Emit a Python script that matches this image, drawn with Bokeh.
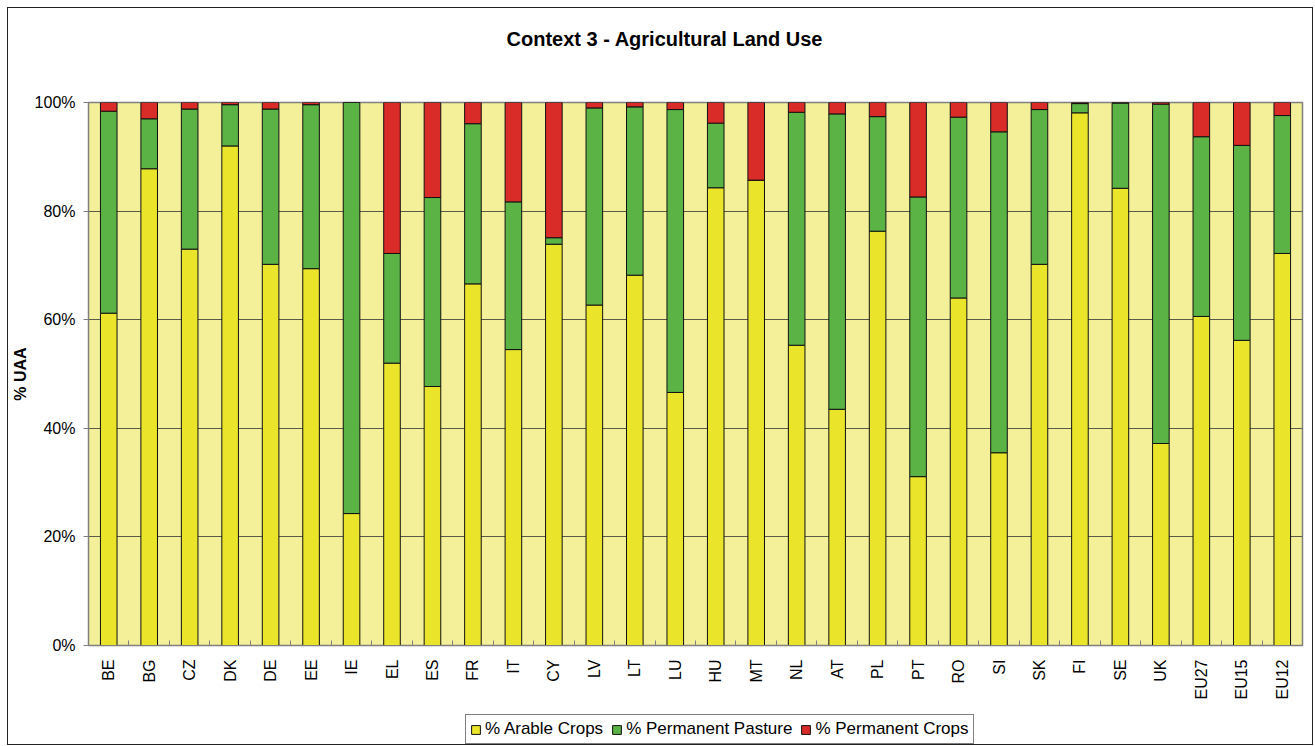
from math import pi
from bokeh.plotting import figure
from bokeh.layouts import column
from bokeh.models import (ColumnDataSource, FixedTicker, Legend, LegendItem, Range1d, Title)
from bokeh.embed import file_html
from bokeh.resources import INLINE

countries = ["BE", "BG", "CZ", "DK", "DE", "EE", "IE", "EL", "ES", "FR", "IT", "CY",
             "LV", "LT", "LU", "HU", "MT", "NL", "AT", "PL", "PT", "RO", "SI", "SK",
             "FI", "SE", "UK", "EU27", "EU15", "EU12"]
arable = [61.2, 87.8, 73.0, 92.0, 70.2, 69.4, 24.3, 52.0, 47.7, 66.6, 54.5, 73.9,
          62.7, 68.2, 46.6, 84.3, 85.7, 55.3, 43.5, 76.3, 31.1, 64.0, 35.5, 70.2,
          98.1, 84.2, 37.2, 60.6, 56.2, 72.2]
pasture = [37.2, 9.2, 25.8, 7.6, 28.6, 30.2, 75.7, 20.2, 34.8, 29.5, 27.2, 1.2,
           36.3, 31.0, 52.1, 11.9, 0.0, 42.9, 54.4, 21.1, 51.5, 33.3, 59.1, 28.5,
           1.7, 15.7, 62.5, 33.1, 35.9, 25.4]
perm_crops = [1.6, 3.0, 1.2, 0.4, 1.2, 0.4, 0.0, 27.8, 17.5, 3.9, 18.3, 24.9,
              1.0, 0.8, 1.3, 3.8, 14.3, 1.8, 2.1, 2.6, 17.4, 2.7, 5.4, 1.3,
              0.2, 0.1, 0.3, 6.3, 7.9, 2.4]
series_names = ["% Arable Crops", "% Permanent Pasture", "% Permanent Crops"]
y_ticks = [0, 20, 40, 60, 80, 100]
y_tick_labels = ["0%", "20%", "40%", "60%", "80%", "100%"]

FONT = "Liberation Sans"
colors = ["#EAE52A", "#5BB245", "#D92B27"]
stack_cols = ["arable", "pasture", "crops"]

idx = list(range(len(countries)))
source = ColumnDataSource(dict(x=idx, arable=arable, pasture=pasture, crops=perm_crops))

W = 1304
H_MAIN = 699
H_LEG = 37
ML, MR, MT = 80, 10, 94
MB = H_MAIN - MT - 543

p = figure(width=W, height=H_MAIN, output_backend="svg", toolbar_location=None, title=None,
           x_range=Range1d(-0.5, len(countries) - 0.5), y_range=Range1d(0, 100),
           min_border_left=ML, min_border_right=MR, min_border_top=MT, min_border_bottom=MB)

# spacer (nearest the frame) then the real title
p.add_layout(Title(text=" ", text_font_size="32px", text_font=FONT), "above")
p.add_layout(Title(text="Context 3 - Agricultural Land Use", align="left", offset=418,
                   text_font=FONT, text_font_size="20px", text_font_style="bold",
                   text_color="#000000"), "above")

p.background_fill_color = "#F3F099"
p.border_fill_color = "#FFFFFF"
p.outline_line_color = "#7F7F7F"
p.outline_line_width = 1.5

renderers = p.vbar_stack(stack_cols, x="x", width=0.41,
                         source=source, color=colors, line_color="#111111",
                         line_width=1)

# grid
p.xgrid.visible = False
p.ygrid.ticker = FixedTicker(ticks=y_ticks)
p.ygrid.grid_line_color = "#5A5A48"
p.ygrid.grid_line_width = 1

# y axis
p.yaxis.ticker = FixedTicker(ticks=y_ticks)
p.yaxis.major_label_overrides = {t: l for t, l in zip(y_ticks, y_tick_labels)}
p.yaxis.axis_label = "% UAA"
p.yaxis.axis_label_text_font = FONT
p.yaxis.axis_label_text_font_size = "16px"
p.yaxis.axis_label_text_font_style = "bold"
p.yaxis.axis_label_text_color = "#000000"
p.yaxis.axis_label_standoff = 3
p.yaxis.major_label_text_font = FONT
p.yaxis.major_label_text_font_size = "16px"
p.yaxis.major_label_text_color = "#000000"
p.yaxis.major_label_standoff = 8
p.yaxis.major_tick_out = 5
p.yaxis.major_tick_in = 0
p.yaxis.minor_tick_line_color = None
p.yaxis.axis_line_color = "#7F7F7F"
p.yaxis.major_tick_line_color = "#7F7F7F"

# x axis
p.xaxis.ticker = FixedTicker(ticks=idx, minor_ticks=[i - 0.5 for i in range(len(countries) + 1)])
p.xaxis.major_label_overrides = {i: c for i, c in zip(idx, countries)}
p.xaxis.major_label_orientation = pi / 2
p.xaxis.major_label_text_font = FONT
p.xaxis.major_label_text_font_size = "16px"
p.xaxis.major_label_text_color = "#000000"
p.xaxis.major_label_standoff = 14
p.xaxis.major_tick_in = 0
p.xaxis.major_tick_out = 0
p.xaxis.minor_tick_in = 5
p.xaxis.minor_tick_out = 0
p.xaxis.minor_tick_line_color = "#7F7F7F"
p.xaxis.axis_line_color = "#7F7F7F"

# legend strip below the chart (its view range lies away from the data, so only
# the legend swatches of these stacked renderers are visible)
pl = figure(width=W, height=H_LEG, output_backend="svg", toolbar_location=None,
            x_range=Range1d(1000, 1001), y_range=Range1d(1000, 1001),
            x_axis_type=None, y_axis_type=None,
            min_border_left=0, min_border_right=0, min_border_top=0, min_border_bottom=0)
pl.outline_line_color = None
pl.grid.visible = False
pl.background_fill_color = "#FFFFFF"
pl.border_fill_color = "#FFFFFF"
swatches = pl.vbar_stack(stack_cols, x="x", width=0.41, source=source, color=colors,
                         line_color="#111111", line_width=1)

legend = Legend(items=[LegendItem(label=n, renderers=[r]) for n, r in zip(series_names, swatches)],
                orientation="horizontal", location=(377, 0))
legend.label_text_font = FONT
legend.label_text_font_size = "17px"
legend.label_text_color = "#000000"
legend.glyph_width = 11
legend.glyph_height = 11
legend.label_standoff = 4
legend.spacing = 8
legend.padding = 4
legend.margin = 0
legend.border_line_color = "#000000"
legend.border_line_width = 1
legend.background_fill_color = "#FFFFFF"
pl.add_layout(legend)

layout = column(p, pl, spacing=0)
layout.margin = (7, 0, 0, 7)
layout.styles = {"border": "1px solid #222222"}

open("out.html", "w").write(file_html(layout, INLINE))
